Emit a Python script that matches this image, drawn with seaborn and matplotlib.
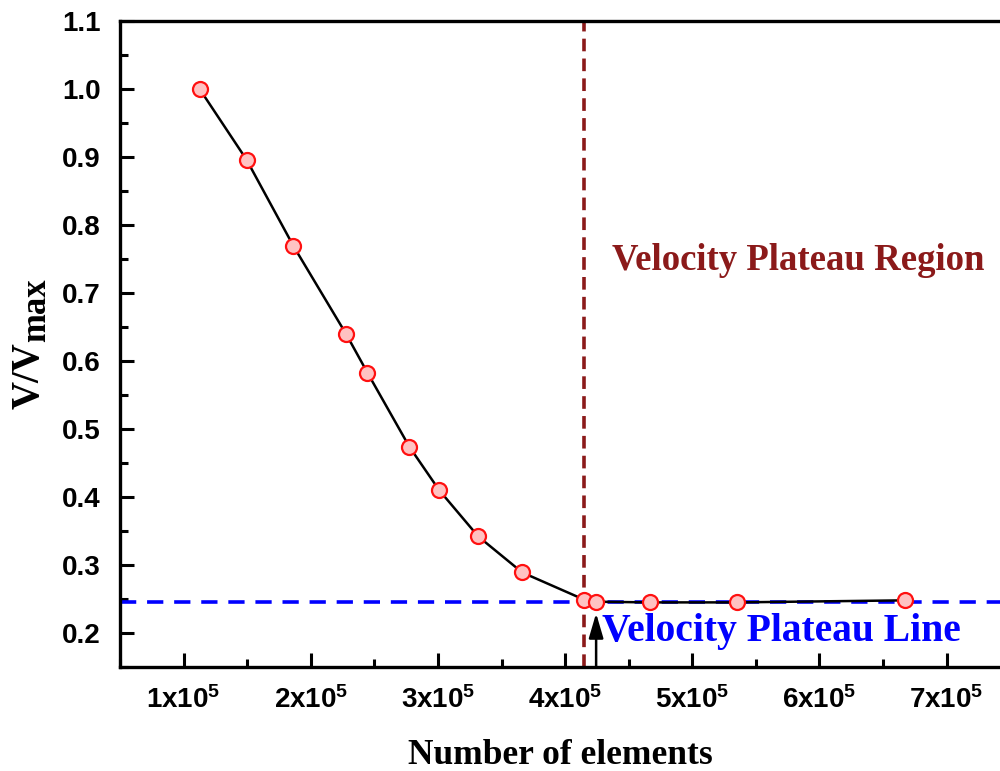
import matplotlib
matplotlib.use("Agg")
import matplotlib.pyplot as plt
from matplotlib.ticker import MultipleLocator, FuncFormatter
import seaborn as sns
import pandas as pd

# Mesh-convergence data: normalised velocity vs. number of elements
elements = [1.126e5, 1.495e5, 1.864e5, 2.28e5, 2.445e5, 2.775e5, 3.01e5,
            3.317e5, 3.663e5, 4.15e5, 4.244e5, 4.668e5, 5.352e5, 6.672e5]
v_ratio = [1.000, 0.896, 0.769, 0.639, 0.583, 0.474, 0.410,
           0.342, 0.289, 0.249, 0.246, 0.245, 0.245, 0.248]

plateau_value = 0.2455          # horizontal plateau level
plateau_start = 4.15e5          # start of plateau region
selected_mesh = 4.244e5         # chosen mesh size (arrow)
x_tick_values = [1e5, 2e5, 3e5, 4e5, 5e5, 6e5, 7e5]

df = pd.DataFrame({"elements": elements, "v_ratio": v_ratio})

sns.set_theme(style="ticks")
plt.rcParams["font.family"] = ["Liberation Sans", "DejaVu Sans"]
plt.rcParams["mathtext.fontset"] = "custom"
plt.rcParams["mathtext.sf"] = "Liberation Sans:bold"
plt.rcParams["mathtext.bf"] = "Liberation Serif:bold"
plt.rcParams["mathtext.rm"] = "Liberation Serif:bold"
plt.rcParams["text.color"] = "black"
plt.rcParams["axes.labelcolor"] = "black"
plt.rcParams["xtick.color"] = "black"
plt.rcParams["ytick.color"] = "black"

W, H = 1000, 771
fig = plt.figure(figsize=(W / 100, H / 100), dpi=100)
ax = fig.add_axes([0.12, 0.1349, 0.88, 0.8379])

ax.axhline(plateau_value, color="#0000FF", lw=2.6, ls=(0, (4.5, 3)), zorder=1)
ax.axvline(plateau_start, color="#8B1A1A", lw=2.6, ls=(0, (3.5, 2)), zorder=1)

sns.lineplot(data=df, x="elements", y="v_ratio", ax=ax, color="black",
             lw=1.8, marker="o", markersize=10.8, markerfacecolor="#FFC2C2",
             markeredgecolor="#FF1010", markeredgewidth=1.6, zorder=3)

ax.annotate("", xy=(selected_mesh, 0.229), xytext=(selected_mesh, 0.15),
            arrowprops=dict(arrowstyle="-|>,head_length=0.75,head_width=0.22",
                            color="black", lw=1.8, mutation_scale=20,
                            shrinkA=0, shrinkB=0),
            zorder=4)

ax.text(5.83e5, 0.748, "Velocity Plateau Region", color="#8B1A1A",
        fontsize=26.5, fontweight="bold", family="Liberation Serif",
        ha="center", va="center")
ax.text(5.70e5, 0.2015, "Velocity Plateau Line", color="#0000FF",
        fontsize=28.5, fontweight="bold", family="Liberation Serif",
        ha="center", va="center")

ax.set_xlim(0.5e5, 7.42e5)
ax.set_ylim(0.15, 1.1)
ax.set_xticks(x_tick_values)
ax.xaxis.set_minor_locator(MultipleLocator(0.5e5))
ax.yaxis.set_major_locator(MultipleLocator(0.1))
ax.yaxis.set_minor_locator(MultipleLocator(0.05))
ax.xaxis.set_major_formatter(
    FuncFormatter(lambda v, p: r"$\mathsf{%dx10^{5}}$" % round(v / 1e5)))
ax.yaxis.set_major_formatter(FuncFormatter(lambda v, p: "%.1f" % v))

ax.tick_params(which="major", direction="in", length=10, width=2.2,
               labelsize=20, pad=14, color="black", labelcolor="black")
ax.tick_params(which="minor", direction="in", length=6, width=2.2,
               color="black")
for lab in ax.get_yticklabels():
    lab.set_fontweight("bold")

for side in ["left", "bottom", "top"]:
    ax.spines[side].set_linewidth(2.4)
    ax.spines[side].set_color("black")
ax.spines["right"].set_visible(False)

ax.set_xlabel("Number of elements", fontsize=25.5, fontweight="bold",
              family="Liberation Serif", labelpad=18)
ax.set_ylabel("")

# y-axis title: "V/V" with a large "max" subscript
serif_bold = dict(family="Liberation Serif", fontweight="bold", rotation=90)
fig.text(29 / W, 1 - 409 / H, "V/V", fontsize=28, ha="center", va="bottom",
         **serif_bold)
fig.text(37 / W, 1 - 278 / H, "max", fontsize=25, ha="center", va="top",
         **serif_bold)

fig.savefig("out.png", dpi=100, facecolor="white")
